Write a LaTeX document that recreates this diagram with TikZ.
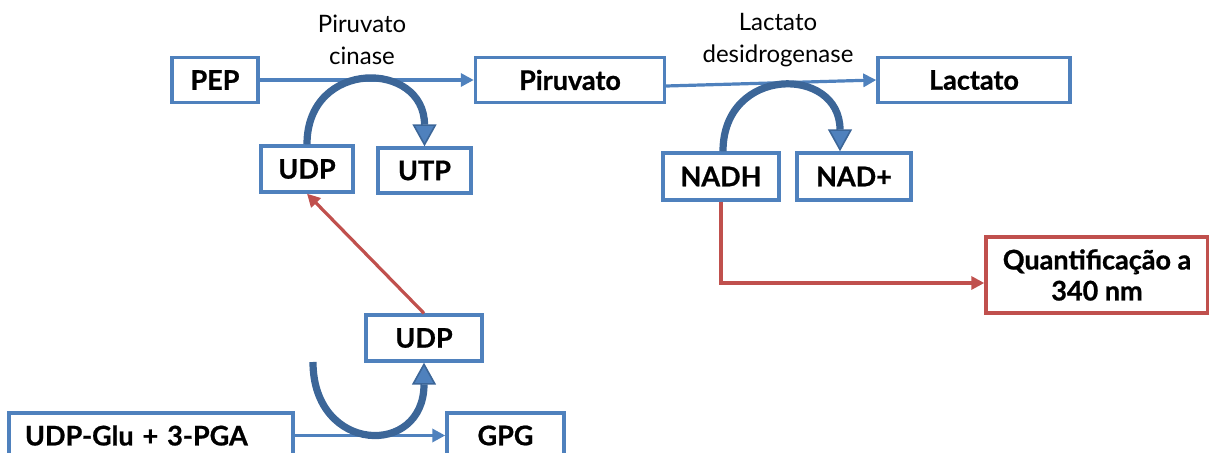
\documentclass[tikz,border=0pt]{standalone}
\usepackage{fontspec}
\setmainfont{Lato}[BoldFeatures={FakeBold=0.8}]
\usepackage{tikz}
\usetikzlibrary{arrows.meta,calc}
\definecolor{boxblue}{HTML}{4F81BD}
\definecolor{arcblue}{HTML}{3C6698}
\definecolor{boxred}{HTML}{C0504D}
\tikzset{
  cmpd/.style={draw=boxblue,line width=1.7pt,fill=white,inner sep=0pt,
    font=\fontsize{13.5}{15.5}\selectfont\bfseries},
  flow/.style={draw=boxblue,line width=1.6pt,-{Triangle[width=6.5pt,length=6.5pt]}},
  redflow/.style={draw=boxred,line width=1.6pt,-{Triangle[width=6.5pt,length=6.5pt]}},
  cofac/.style={draw=arcblue,line width=3.6pt,
    -{Triangle[width=12pt,length=11pt,fill=boxblue,line width=0.8pt]}},
  enz/.style={align=center,font=\fontsize{12}{16}\selectfont}
}
\begin{document}
\begin{tikzpicture}[x=0.5pt,y=-0.5pt]
\useasboundingbox (0,0) rectangle (1209,453);
% compounds
\node[cmpd,minimum width=43pt,minimum height=22.5pt] (pep) at (215,80) {PEP};
\node[cmpd,minimum width=94.5pt,minimum height=22.5pt] (piruvato) at (570,80) {Piruvato};
\node[cmpd,minimum width=96pt,minimum height=22.5pt] (lactato) at (974,80) {Lactato};
\node[cmpd,minimum width=46pt,minimum height=23pt] (udpa) at (307,169) {UDP};
\node[cmpd,minimum width=46.5pt,minimum height=22.5pt] (utp) at (424.5,170.5) {UTP};
\node[cmpd,minimum width=58pt,minimum height=23.5pt] (nadh) at (721,176.5) {NADH};
\node[cmpd,minimum width=57pt,minimum height=23.5pt] (nad) at (854,176.5) {NAD+};
\node[cmpd,draw=boxred,align=center,minimum width=111pt,minimum height=38pt] (quant) at (1097,275) {Quantificação a\\340 nm};
\node[cmpd,minimum width=58pt,minimum height=23pt] (udpb) at (424,338) {UDP};
\node[cmpd,inner xsep=8pt,text width=126pt,align=left,minimum height=22.5pt] (udpglu) at (151,435.5) {UDP-Glu + 3-PGA};
\node[cmpd,minimum width=58.5pt,minimum height=22.5pt] (gpg) at (505.5,435.5) {GPG};
% enzymes
\node[enz] (pk) at (362,40) {Piruvato\\cinase};
\node[enz] (ldh) at (778,40) {Lactato\\desidrogenase};
% main reactions
\draw[flow] (pep) -- (piruvato);
\draw[flow] ($(piruvato.east)+(0,6)$) -- (lactato.west);
\draw[flow] (udpglu) -- (gpg);
% cofactors
\draw[cofac] (udpa.north) .. controls +(0,-86) and +(0,-86) .. (utp.north);
\draw[cofac] ($(nadh.north)+(2,0)$) .. controls +(0,-86) and +(0,-86) .. ($(nad.north)+(-14,0)$);
\coordinate (glustart) at (313,362);
\draw[cofac] (glustart) .. controls +(0,92) and +(0,95) .. (udpb.south);
% coupling
\draw[redflow] (udpb.north) -- (udpa.south);
\draw[redflow] (nadh.south) |- ($(quant.west)+(0,8)$);
\end{tikzpicture}
\end{document}
